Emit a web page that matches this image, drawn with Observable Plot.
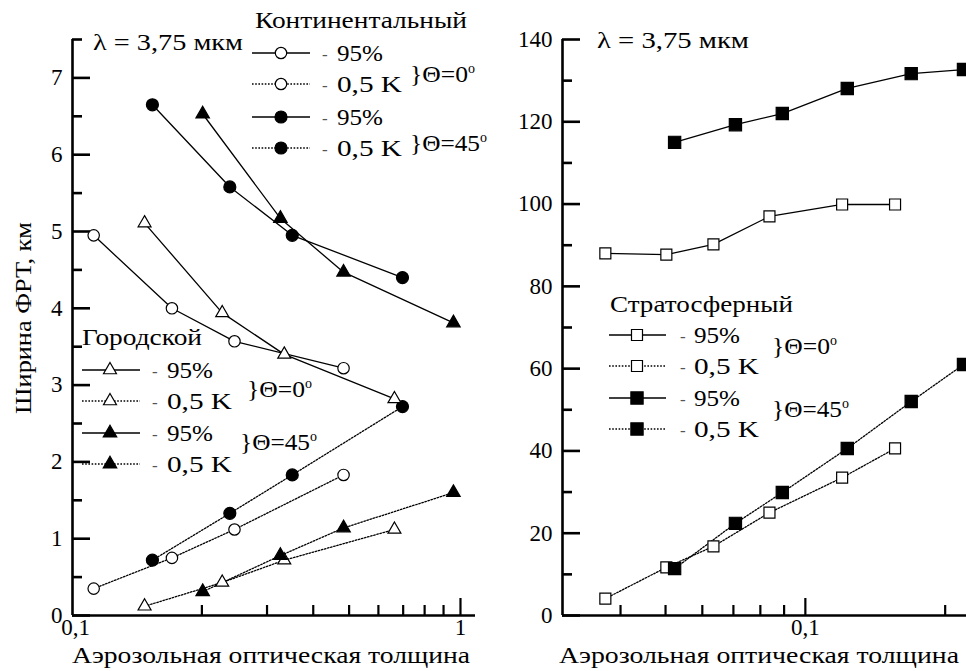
<!DOCTYPE html>
<html><head><meta charset="utf-8">
<script src="https://cdn.jsdelivr.net/npm/d3@7"></script>
<script src="https://cdn.jsdelivr.net/npm/@observablehq/plot@0.6"></script>
<style>
body{margin:0;background:#fff;}
#wrap{position:relative;width:966px;height:671px;overflow:hidden;background:#fff;font-family:'Liberation Serif',serif;}
#wrap svg{position:absolute;top:0;max-width:none;font-family:'Liberation Serif',serif !important;}
#wrap svg text{font-family:'Liberation Serif',serif;}
</style></head><body><div id="wrap"></div>
<script>
// ---- Left panel data: [aerosol optical depth, PSF width (km)] ----
const cont95_0  = [[0.102,4.95],[0.166,4.00],[0.245,3.57],[0.483,3.22]];
const cont05_0  = [[0.102,0.35],[0.166,0.75],[0.245,1.12],[0.483,1.83]];
const cont95_45 = [[0.147,6.65],[0.238,5.58],[0.351,4.95],[0.697,4.40]];
const cont05_45 = [[0.147,0.72],[0.238,1.33],[0.351,1.83],[0.697,2.72]];
const urb95_0   = [[0.140,5.11],[0.227,3.94],[0.334,3.40],[0.663,2.82]];
const urb05_0   = [[0.140,0.12],[0.227,0.43],[0.334,0.72],[0.663,1.12]];
const urb95_45  = [[0.201,6.53],[0.326,5.17],[0.483,4.47],[0.957,3.81]];
const urb05_45  = [[0.201,0.31],[0.326,0.78],[0.483,1.14],[0.957,1.60]];
// ---- Right panel data ----
const strat95_0  = [[0.0371,88.0],[0.0502,87.7],[0.0634,90.2],[0.0837,97.0],[0.120,99.9],[0.156,99.9]];
const strat05_0  = [[0.0371,4.1],[0.0502,11.7],[0.0634,16.8],[0.0837,25.0],[0.120,33.5],[0.156,40.6]];
const strat95_45 = [[0.0523,115.0],[0.0707,119.3],[0.0892,122.0],[0.1231,128.1],[0.169,131.7],[0.219,132.7]];
const strat05_45 = [[0.0523,11.4],[0.0707,22.4],[0.0892,29.9],[0.1231,40.6],[0.169,52.0],[0.219,61.0]];

// ---- Ticks and labels ----
const leftYMajor = [0,1,2,3,4,5,6,7];
const leftYMinor = [0.5,1.5,2.5,3.5,4.5,5.5,6.5,7.5];
const leftXMajor = [1];
const leftXMinor = [0.2,0.3,0.4,0.5,0.6,0.7,0.8,0.9];
const leftXLabelVals = [0.1, 1];
const leftXLabelText = ["0,1", "1"];
const rightYMajor = [0,20,40,60,80,100,120,140];
const rightYMinor = [10,30,50,70,90,110,130];
const rightXMajor = [0.1];
const rightXMinor = [0.04,0.05,0.06,0.07,0.08,0.09,0.2];
const rightXLabelVals = [0.1];
const rightXLabelText = ["0,1"];

const xTitle = "Аэрозольная оптическая толщина";
const yTitle = "Ширина ФРТ, км";
const lambdaText = "λ = 3,75 мкм";
const contTitle = "Континентальный";
const urbTitle = "Городской";
const stratTitle = "Стратосферный";
const legendLabels = ["95%", "0,5 K", "95%", "0,5 K"];
const thetaLabels = ["}Θ=0", "}Θ=45"];

const FONT = "'Liberation Serif', serif";
const FS = 23;     // general text size
const TFS = 23;    // tick label size
const legendWidths = [46, 65, 46, 65];
const thetaWidths = [58, 70];

// styles per series
const leftSeries = [
  {data: cont95_0,  symbol: "circle",   fill: "white", dotted: false, r: 5.7},
  {data: cont05_0,  symbol: "circle",   fill: "white", dotted: true,  r: 5.7},
  {data: cont95_45, symbol: "circle",   fill: "black", dotted: false, r: 6},
  {data: cont05_45, symbol: "circle",   fill: "black", dotted: true,  r: 6},
  {data: urb95_0,   symbol: "triangle", fill: "white", dotted: false, r: 4.8},
  {data: urb05_0,   symbol: "triangle", fill: "white", dotted: true,  r: 4.8},
  {data: urb95_45,  symbol: "triangle", fill: "black", dotted: false, r: 5},
  {data: urb05_45,  symbol: "triangle", fill: "black", dotted: true,  r: 5}
];
const rightSeries = [
  {data: strat95_0,  symbol: "square", fill: "white", dotted: false, r: 6.2},
  {data: strat05_0,  symbol: "square", fill: "white", dotted: true,  r: 6.2},
  {data: strat95_45, symbol: "square", fill: "black", dotted: false, r: 6.9},
  {data: strat05_45, symbol: "square", fill: "black", dotted: true,  r: 6.9}
];
const DASH = "1.6,1.6";

function panel(o) {
  const X = d => d[0], Y = d => d[1];
  const marks = [];
  o.series.forEach(s => marks.push(Plot.line(s.data, {x: X, y: Y, stroke: "#000", strokeWidth: 1.3,
    strokeDasharray: s.dotted ? DASH : null})));
  marks.push(Plot.ruleY([o.yDomain[0]], {stroke: "#000", strokeWidth: 2.6}));
  marks.push(Plot.ruleX([o.xDomain[0]], {stroke: "#000", strokeWidth: 2.6}));
  marks.push(Plot.axisY(o.yMajor, {anchor: "left", tickSize: -18, tickPadding: 28, strokeWidth: 2.6,
    tickFormat: d => String(d), fontSize: TFS, fontVariant: "normal"}));
  marks.push(Plot.axisY(o.yMinor, {anchor: "left", tickSize: -10, strokeWidth: 2.6, tickFormat: () => ""}));
  marks.push(Plot.axisX(o.xMinor, {anchor: "bottom", tickSize: -10, strokeWidth: 2.2, tickFormat: () => ""}));
  marks.push(Plot.axisX(o.xMajor, {anchor: "bottom", tickSize: -17, strokeWidth: 2.2, tickFormat: () => ""}));
  o.xLabelVals.forEach((v, i) => marks.push(Plot.axisX([v], {anchor: "bottom", tickSize: 0, tickPadding: 3,
    dx: o.xLabelDx[i], tickFormat: () => o.xLabelText[i], fontSize: TFS, fontVariant: "normal"})));
  o.series.forEach(s => marks.push(Plot.dot(s.data, {x: X, y: Y, symbol: s.symbol, r: s.r, fill: s.fill,
    stroke: "#000", strokeWidth: 1.2})));
  const svg = Plot.plot({
    width: o.width, height: 671,
    marginLeft: o.ml, marginRight: o.mr, marginTop: 39, marginBottom: 56,
    x: {type: "log", domain: o.xDomain},
    y: {domain: o.yDomain},
    style: {fontFamily: FONT, fontSize: FS + "px", background: "transparent", color: "#000", overflow: "visible"},
    marks
  });
  svg.style.left = o.left + "px";
  return svg;
}

const wrap = document.getElementById("wrap");
wrap.appendChild(panel({left: 0, width: 490, ml: 72, mr: 15, xDomain: [0.0894, 1.098], yDomain: [0, 7.5],
  yMajor: leftYMajor, yMinor: leftYMinor, xMajor: leftXMajor, xMinor: leftXMinor,
  xLabelVals: leftXLabelVals, xLabelText: leftXLabelText, xLabelDx: [-15, 0], series: leftSeries}));
wrap.appendChild(panel({left: 480, width: 486, ml: 82, mr: 0, xDomain: [0.03, 0.2223], yDomain: [0, 140],
  yMajor: rightYMajor, yMinor: rightYMinor, xMajor: rightXMajor, xMinor: rightXMinor,
  xLabelVals: rightXLabelVals, xLabelText: rightXLabelText, xLabelDx: [0], series: rightSeries}));

// ---- Overlay: titles and legends ----
const ov = d3.select(wrap).append("svg").attr("width", 966).attr("height", 671)
  .style("left", "0px").attr("font-size", FS).attr("fill", "#000");

function text(x, y, s, opts = {}) {
  const t = ov.append("text").attr("x", x).attr("y", y).text(s);
  if (opts.anchor) t.attr("text-anchor", opts.anchor);
  if (opts.size) t.attr("font-size", opts.size);
  if (opts.len) t.attr("textLength", opts.len).attr("lengthAdjust", "spacingAndGlyphs");
  return t;
}
function theta(x, y, s, len) {
  const t = ov.append("text").attr("x", x).attr("y", y);
  t.append("tspan").attr("textLength", len).attr("lengthAdjust", "spacingAndGlyphs").text(s);
  t.append("tspan").attr("dy", -9).attr("font-size", 14).text("o");
}
function legend(cfg, series) {
  text(cfg.titleX, cfg.titleY, cfg.title, {len: cfg.titleLen});
  series.forEach((s, i) => {
    const y = cfg.rows[i];
    ov.append("line").attr("x1", cfg.lx1).attr("x2", cfg.lx2).attr("y1", y).attr("y2", y)
      .attr("stroke", "#000").attr("stroke-width", 1.3).attr("stroke-dasharray", s.dotted ? DASH : null);
    const sym = {circle: d3.symbolCircle, triangle: d3.symbolTriangle, square: d3.symbolSquare}[s.symbol];
    ov.append("path").attr("d", d3.symbol(sym, s.r * s.r * Math.PI)())
      .attr("transform", `translate(${cfg.mx},${y})`).attr("fill", s.fill).attr("stroke", "#000").attr("stroke-width", 1.2);
    text(cfg.dashX, y + 7, "-", {size: 17}).attr("fill", "#555");
    text(cfg.textX, y + 8, legendLabels[i], {len: legendWidths[i]});
  });
  theta(cfg.t0x, cfg.t0y, thetaLabels[0], thetaWidths[0]);
  theta(cfg.t45x, cfg.t45y, thetaLabels[1], thetaWidths[1]);
}

legend({title: contTitle, titleX: 255, titleY: 28, titleLen: 212, rows: [53, 84, 117, 148], lx1: 252, lx2: 310, mx: 281,
  dashX: 322, textX: 337, t0x: 410, t0y: 82, t45x: 410, t45y: 151}, leftSeries.slice(0, 4));
legend({title: urbTitle, titleX: 82, titleY: 345, titleLen: 120, rows: [370, 401, 433, 464], lx1: 82, lx2: 140, mx: 110,
  dashX: 152, textX: 167, t0x: 247, t0y: 397, t45x: 240, t45y: 450}, leftSeries.slice(4, 8));
legend({title: stratTitle, titleX: 610, titleY: 312, titleLen: 183, rows: [335, 366, 398, 429], lx1: 609, lx2: 666, mx: 637,
  dashX: 680, textX: 694, t0x: 772, t0y: 354, t45x: 772, t45y: 417}, rightSeries);

text(93, 50, lambdaText, {len: 150});
text(597, 48, lambdaText, {len: 152});
text(271, 663, xTitle, {anchor: "middle", len: 398});
text(759, 663, xTitle, {anchor: "middle", len: 400});
ov.append("text").attr("transform", "translate(31,318) rotate(-90)").attr("text-anchor", "middle")
  .attr("textLength", 192).attr("lengthAdjust", "spacingAndGlyphs").text(yTitle);
</script></body></html>
